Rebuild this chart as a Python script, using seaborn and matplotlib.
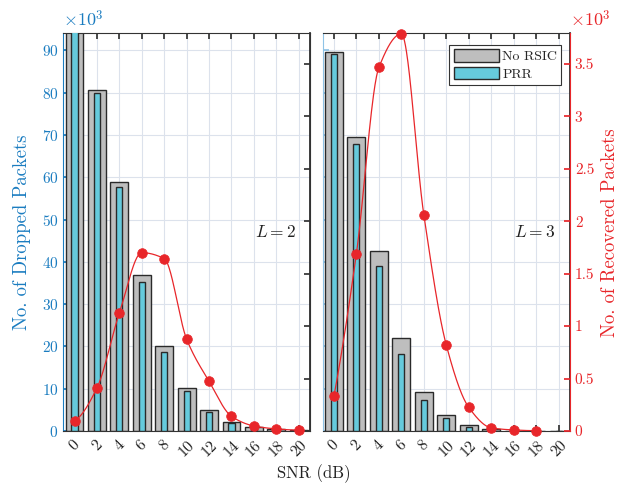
import numpy as np
import pandas as pd
import matplotlib
matplotlib.use("Agg")
import matplotlib.pyplot as plt
from matplotlib.patches import Patch
import seaborn as sns

# ---------------- data ----------------
snr = [0, 2, 4, 6, 8, 10, 12, 14, 16, 18, 20]
tick_labels = ["0", "2", "4", "6", "8", "10", "12", "14", "16", "18", "20"]

# L = 2 (values x10^3)
norsic_L2 = [97.0, 80.6, 58.9, 36.9, 20.2, 10.2, 4.9, 2.2, 0.95, 0.4, 0.15]
prr_L2 = [95.0, 80.0, 57.7, 35.2, 18.6, 9.45, 4.4, 1.9, 0.7, 0.3, 0.1]
rec_L2 = [0.098, 0.41, 1.125, 1.70, 1.643, 0.875, 0.473, 0.14, 0.048, 0.02, 0.008]

# L = 3 (values x10^3)
norsic_L3 = [89.6, 69.5, 42.5, 22.0, 9.3, 3.85, 1.35, 0.4, 0.1, 0.03, 0.0]
prr_L3 = [89.2, 67.8, 39.1, 18.2, 7.25, 3.0, 1.0, 0.2, 0.05, 0.02, 0.0]
snr_rec_L3 = [0, 2, 4, 6, 8, 10, 12, 14, 16, 18]
rec_L3 = [0.33, 1.69, 3.465, 3.785, 2.06, 0.818, 0.225, 0.03, 0.01, 0.003]

panel_labels = ["$L=2$", "$L=3$"]
legend_labels = ["No RSIC", "PRR"]

# ---------------- style ----------------
sns.set_theme(style="white")
plt.rcParams["font.family"] = ["cmr10", "DejaVu Serif"]
plt.rcParams["mathtext.fontset"] = "cm"
plt.rcParams["axes.unicode_minus"] = False
plt.rcParams["axes.formatter.use_mathtext"] = True

BLUE = "#1A7CC0"
RED = "#E8262A"
GRAY = "#BEBEBE"
CYAN = "#66CADC"
EDGE = "#2A2A2A"
GRID = "#DCE2EC"


def pchip_curve(x, y, n=400):
    """Shape-preserving piecewise cubic Hermite curve through the points."""
    x = np.asarray(x, float)
    y = np.asarray(y, float)
    h = np.diff(x)
    delta = np.diff(y) / h
    m = len(x)
    d = np.zeros(m)
    for i in range(1, m - 1):
        if delta[i - 1] * delta[i] > 0:
            w1 = 2 * h[i] + h[i - 1]
            w2 = h[i] + 2 * h[i - 1]
            d[i] = (w1 + w2) / (w1 / delta[i - 1] + w2 / delta[i])
        else:
            d[i] = 0.0

    def end(h0, h1, d0, d1):
        dd = ((2 * h0 + h1) * d0 - h0 * d1) / (h0 + h1)
        if np.sign(dd) != np.sign(d0):
            dd = 0.0
        elif np.sign(d0) != np.sign(d1) and abs(dd) > abs(3 * d0):
            dd = 3 * d0
        return dd

    d[0] = end(h[0], h[1], delta[0], delta[1])
    d[-1] = end(h[-1], h[-2], delta[-1], delta[-2])
    xs = np.linspace(x[0], x[-1], n)
    idx = np.clip(np.searchsorted(x, xs) - 1, 0, m - 2)
    hh = h[idx]
    t = (xs - x[idx]) / hh
    h00 = 2 * t ** 3 - 3 * t ** 2 + 1
    h10 = t ** 3 - 2 * t ** 2 + t
    h01 = -2 * t ** 3 + 3 * t ** 2
    h11 = t ** 3 - t ** 2
    ys = h00 * y[idx] + h10 * hh * d[idx] + h01 * y[idx + 1] + h11 * hh * d[idx + 1]
    return xs, ys


fig = plt.figure(figsize=(6.28, 4.84), dpi=100)
ax_pos = [[0.1008, 0.1095, 0.3928, 0.8215], [0.5138, 0.1095, 0.3938, 0.8215]]

panels = [
    (norsic_L2, prr_L2, snr, rec_L2),
    (norsic_L3, prr_L3, snr_rec_L3, rec_L3),
]

for k, (gray_v, cyan_v, xr, rec) in enumerate(panels):
    ax = fig.add_axes(ax_pos[k])
    df = pd.DataFrame({"snr": snr, "norsic": gray_v, "prr": cyan_v})
    sns.barplot(data=df, x="snr", y="norsic", native_scale=True, width=0.8,
                color=GRAY, saturation=1, edgecolor=EDGE, linewidth=1.0,
                errorbar=None, ax=ax, zorder=2)
    sns.barplot(data=df, x="snr", y="prr", native_scale=True, width=0.275,
                color=CYAN, saturation=1, edgecolor=EDGE, linewidth=1.0,
                errorbar=None, ax=ax, zorder=3)
    ax.set_xlim(-1, 21)
    ax.set_ylim(0, 94)
    ax.set_xticks(snr)
    ax.set_xticklabels(tick_labels, rotation=45, ha="center", fontsize=11.5)
    ax.set_yticks(np.arange(0, 91, 10))
    ax.set_xlabel("")
    ax.set_ylabel("")
    ax.grid(True, color=GRID, linewidth=0.8, zorder=0)
    ax.set_axisbelow(True)
    ax.tick_params(axis="x", direction="in", top=True, bottom=True, length=4,
                   color="#333333", labelcolor="#222222", pad=5)
    ax.tick_params(axis="y", direction="in", left=True, length=4,
                   color=BLUE if k == 0 else "#8FC3E6", labelcolor=BLUE,
                   labelsize=11)
    for s in ["top", "bottom"]:
        ax.spines[s].set_color("#333333")
        ax.spines[s].set_linewidth(0.8)
    ax.spines["left"].set_color(BLUE if k == 0 else "#8FC3E6")
    ax.spines["left"].set_linewidth(0.8)
    if k == 1:
        ax.tick_params(axis="y", labelleft=False)
    else:
        ax.text(-1, 95, r"$\times10^{3}$", color=BLUE, fontsize=13,
                ha="left", va="bottom")

    ax2 = ax.twinx()
    xs, ys = pchip_curve(xr, rec)
    sns.lineplot(x=xs, y=ys, color=RED, linewidth=0.9, ax=ax2, zorder=4)
    sns.scatterplot(x=xr, y=rec, color=RED, s=48, edgecolor=RED, ax=ax2,
                    zorder=5, clip_on=False)
    ax2.set_ylim(0, 3.79)
    ax2.set_yticks([0, 0.5, 1, 1.5, 2, 2.5, 3, 3.5])
    ax2.set_yticklabels(["0", "0.5", "1", "1.5", "2", "2.5", "3", "3.5"])
    ax2.set_xlim(-1, 21)
    if k == 0:
        ax2.tick_params(axis="y", direction="in", length=4, color="#333333",
                        labelright=False)
        ax2.spines["right"].set_color("#333333")
    else:
        ax2.tick_params(axis="y", direction="in", length=4, color=RED,
                        labelcolor=RED, labelsize=11)
        ax2.spines["right"].set_color(RED)
        ax2.text(21, 3.83, r"$\times10^{3}$", color=RED, fontsize=13,
                 ha="left", va="bottom")
    ax2.spines["right"].set_linewidth(0.8)
    ax2.spines["left"].set_visible(False)
    ax2.spines["top"].set_visible(False)
    ax2.spines["bottom"].set_visible(False)
    ax2.grid(False)

    ax.text(17.9, 47, panel_labels[k], fontsize=12.5, ha="center", va="center",
            color="#222222", zorder=6)

    if k == 1:
        handles = [Patch(facecolor=GRAY, edgecolor=EDGE, linewidth=1.0),
                   Patch(facecolor=CYAN, edgecolor=EDGE, linewidth=1.0)]
        leg = ax2.legend(handles, legend_labels, loc="upper right",
                         bbox_to_anchor=(0.965, 0.97), fontsize=10,
                         handlelength=3.3, handleheight=1.0, handletextpad=0.2,
                         borderpad=0.3, labelspacing=0.25, fancybox=False,
                         framealpha=1, edgecolor="#333333", borderaxespad=0)
        leg.get_frame().set_linewidth(0.8)
        leg.set_zorder(10)

fig.text(0.035, 0.52, "No. of Dropped Packets", color=BLUE, fontsize=13.5,
         rotation=90, ha="center", va="center")
fig.text(0.972, 0.52, "No. of Recovered Packets", color=RED, fontsize=13.5,
         rotation=90, ha="center", va="center")
fig.text(0.5, 0.021, "SNR (dB)", color="#222222", fontsize=12,
         ha="center", va="center")

fig.savefig("out.png", dpi=100)
